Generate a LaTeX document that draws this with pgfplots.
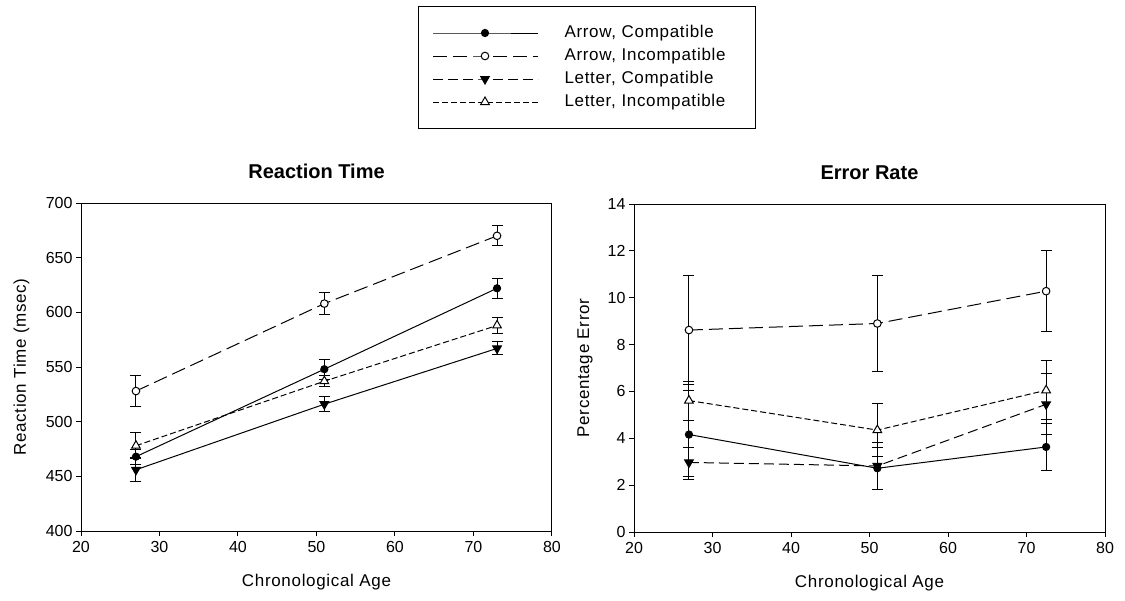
\documentclass[border=0pt]{standalone}
\usepackage{fontspec}
\setmainfont{Liberation Sans}
\newfontfamily\labfont[LetterSpace=4]{Liberation Sans}
\usepackage{pgfplots}
\pgfplotsset{compat=1.18}

\pgfplotsset{
  common/.style={
    scale only axis, width=471bp, height=328bp,
    xmin=20, xmax=80, xtick={20,30,...,80},
    tick pos=left, tick align=outside, major tick length=5bp,
    axis line style={line width=1bp, black},
    every tick/.style={line width=1bp, black},
    /pgf/number format/assume math mode=true,
    every tick label/.append style={font=\fontsize{16bp}{16bp}\selectfont},
    xticklabel style={yshift=-2bp},
    label style={font=\labfont\fontsize{17bp}{17bp}\selectfont},
    title style={font=\bfseries\fontsize{20bp}{20bp}\selectfont, at={(axis description cs:0.5,1)}, anchor=base, yshift=19bp},
    xlabel style={at={(axis description cs:0.5,0)}, anchor=base, yshift=-55bp},
    error bars/error mark=-,
    error bars/error bar style={solid, line width=1bp, black},
    error bars/error mark options={solid, line width=1bp, black, mark size=5.5bp, rotate=90},
  },
  ac/.style={black, line width=1bp, solid, mark=*, mark size=3.6bp, mark options={solid, fill=black},
    error bars/.cd, y dir=both, y explicit},
  ai/.style={black, line width=1bp, dash pattern=on 14bp off 6bp, mark=*, mark size=3.8bp, mark options={solid, fill=white},
    error bars/.cd, y dir=both, y explicit},
  lcleg/.style={black, line width=1bp, dash pattern=on 10bp off 5bp, mark=triangle*, mark size=5bp, mark options={solid, fill=black, rotate=180}},
  lc/.style={black, line width=1bp, dash pattern=on 10bp off 5bp, mark=triangle*, mark size=5bp, mark options={solid, fill=black, rotate=180},
    error bars/.cd, y dir=both, y explicit},
  lcsolid/.style={black, line width=1bp, solid, mark=triangle*, mark size=5bp, mark options={solid, fill=black, rotate=180},
    error bars/.cd, y dir=both, y explicit},
  li/.style={black, line width=1bp, dash pattern=on 6bp off 3bp, mark=triangle*, mark size=5bp, mark options={solid, fill=white},
    error bars/.cd, y dir=both, y explicit},
}

\begin{document}
\begin{tikzpicture}
\useasboundingbox (0,0) rectangle (1125bp,-601bp);

\begin{axis}[common,
  at={(81bp,-531bp)}, anchor=south west,
  ymin=400, ymax=700, ytick={400,450,...,700},
  title={Reaction Time},
  xlabel={Chronological Age},
  ylabel={Reaction Time (msec)},
  ylabel style={at={(axis description cs:-0.117,0.5)}, anchor=base},
  legend cell align=left,
  legend image code/.code={\draw[mark repeat=2, mark phase=2, #1] plot coordinates {(0bp,0bp) (52bp,0bp) (105bp,0bp)};},
  legend style={at={(axis description cs:0.7155,1.6006)}, anchor=north west, draw=black, line width=1bp,
    inner xsep=14bp, inner ysep=16bp, row sep=2bp,
    font=\labfont\fontsize{17bp}{17bp}\selectfont,
    nodes={text width=175bp, align=left, inner sep=2bp, text height=13bp, text depth=4bp},
    /tikz/every odd column/.append style={column sep=24bp}},
]
\addplot[ac] coordinates {(27,468) +- (0,7) (51,548) +- (0,9) (73,622) +- (0,9)};
\addlegendentry{Arrow, Compatible}
\addplot[ai] coordinates {(27,528) +- (0,14) (51,608) +- (0,10) (73,670) +- (0,9)};
\addlegendentry{Arrow, Incompatible}
\addplot[forget plot, lcsolid] coordinates {(27,456) +- (0,11) (51,516) +- (0,7) (73,567) +- (0,6)};
\addlegendimage{lcleg}
\addlegendentry{Letter, Compatible}
\addplot[li] coordinates {(27,478) +- (0,12) (51,537) +- (0,5) (73,588) +- (0,7)};
\addlegendentry{Letter, Incompatible}
\end{axis}

\begin{axis}[common,
  at={(634bp,-532bp)}, anchor=south west,
  ymin=0, ymax=14, ytick={0,2,...,14},
  title={Error Rate},
  xlabel={Chronological Age},
  ylabel={Percentage Error},
  ylabel style={at={(axis description cs:-0.0953,0.5)}, anchor=base},
]
\addplot[ac] coordinates {(27,4.16) +- (0,1.9) (51,2.72) +- (0,0.9) (72.5,3.63) +- (0,1.01)};
\addplot[ai] coordinates {(27,8.62) +- (0,2.33) (51,8.9) +- (0,2.05) (72.5,10.28) +- (0,1.72)};
\addplot[lc] coordinates {(27,2.97) +- (0,0.62) (51,2.82) +- (0,1.0) (72.5,5.45) +- (0,1.3)};
\addplot[li] coordinates {(27,5.61) +- (0,0.83) (51,4.35) +- (0,1.12) (72.5,6.05) +- (0,1.26)};
\end{axis}
\end{tikzpicture}
\end{document}
